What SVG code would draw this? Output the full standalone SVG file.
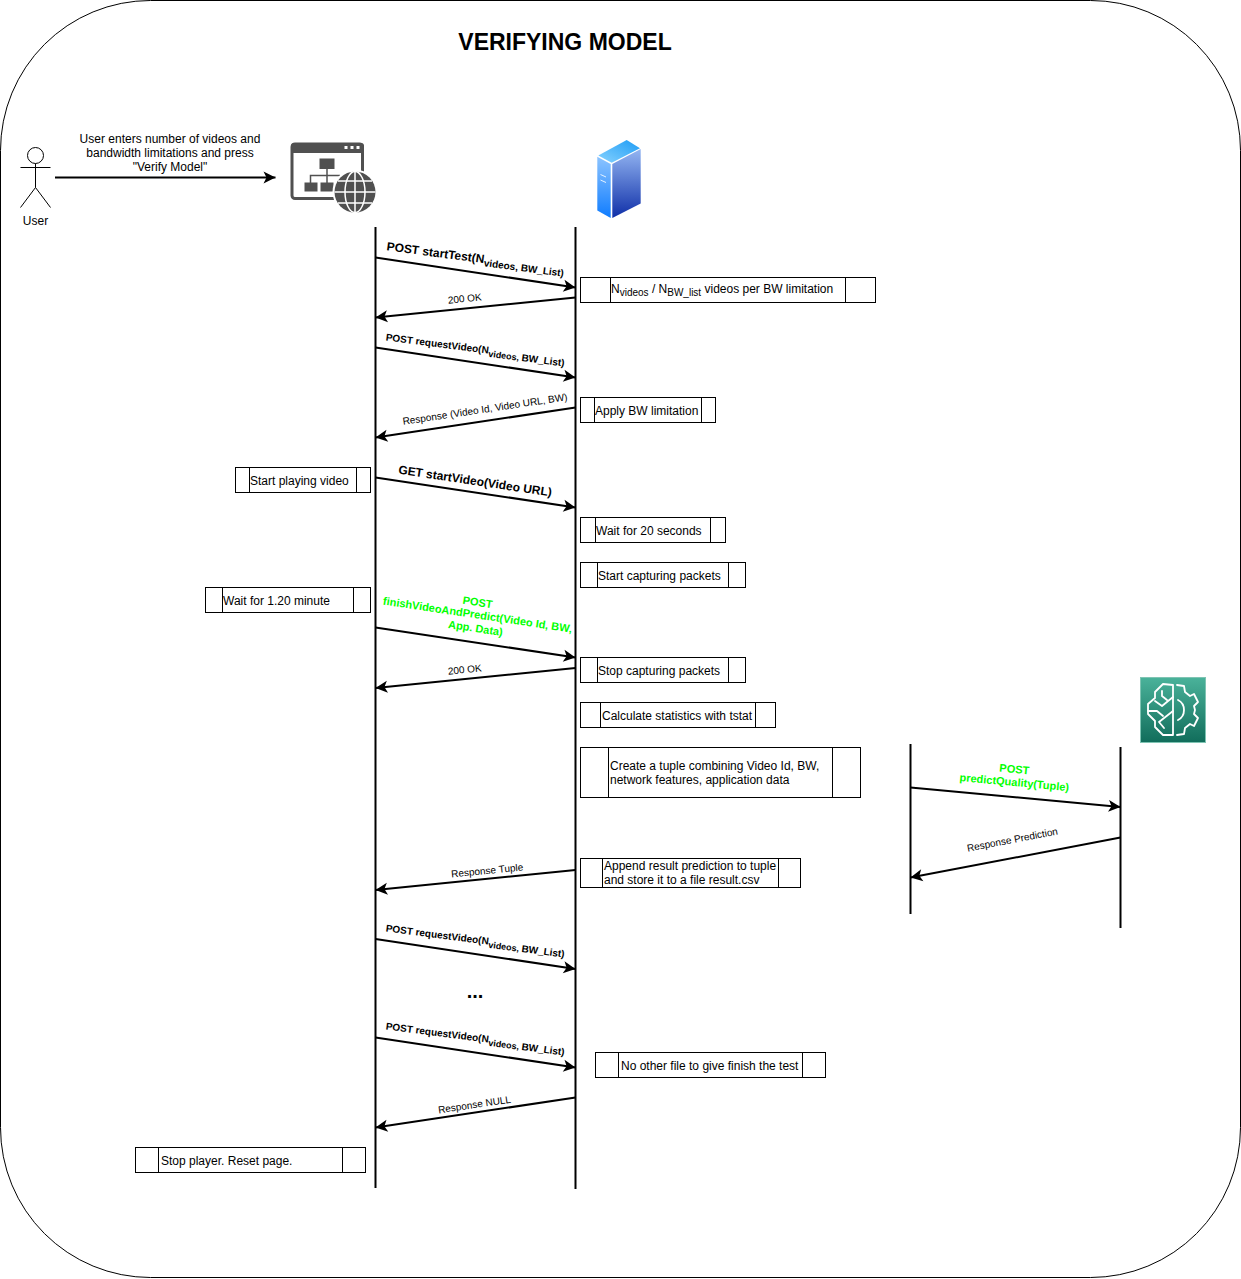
<svg xmlns="http://www.w3.org/2000/svg" width="1241" height="1279" viewBox="0 0 1241 1279">
<style>
text{font-family:"Liberation Sans",Arial,sans-serif;font-size:12px;fill:#000}
.life{stroke:#000;stroke-width:2;fill:none}
.msg{stroke:#000;stroke-width:2;fill:none;marker-end:url(#arr)}
.box{fill:#fff;stroke:#000;stroke-width:1}
.m{text-anchor:middle;font-size:10px}
.b{font-weight:bold}
.r{font-size:10px;text-anchor:middle;font-weight:bold}
.s{font-size:9px}
.g{fill:#00ff00;font-weight:bold;font-size:11px;text-anchor:middle}
.ico{fill:#505050}
.wl{fill:none;stroke:#fff;stroke-width:1.8;stroke-linejoin:round;stroke-linecap:round}
</style>
<defs>
<marker id="arr" viewBox="0 0 13 13" refX="12.500" refY="6.500" markerWidth="13" markerHeight="13" markerUnits="userSpaceOnUse" orient="auto">
<path d="M0.500 0.500 L12.500 6.500 L0.500 12.500 L3.500 6.500Z" fill="#000"/>
</marker>
<linearGradient id="front" x1="0" y1="0" x2="0" y2="1"><stop offset="0" stop-color="#94b6f2"/><stop offset="1" stop-color="#0f2fa8"/></linearGradient>
<linearGradient id="side" x1="0" y1="0" x2="0" y2="1"><stop offset="0" stop-color="#8cc4ff"/><stop offset="1" stop-color="#0f7cff"/></linearGradient>
<linearGradient id="top" x1="0" y1="1" x2="1" y2="0"><stop offset="0" stop-color="#86d2ff"/><stop offset="1" stop-color="#1e9cf5"/></linearGradient>
<linearGradient id="ml" x1="0" y1="0" x2="0" y2="1"><stop offset="0" stop-color="#4ab29a"/><stop offset="1" stop-color="#116d5b"/></linearGradient>
</defs>
<rect x="0.500" y="0.500" width="1240" height="1277" rx="150" ry="150" fill="#fff" stroke="#000"/>
<text x="565" y="50" text-anchor="middle" style="font-size:23px;font-weight:bold">VERIFYING MODEL</text>

<g id="user" fill="none" stroke="#000">
<circle cx="35.500" cy="155.500" r="8"/>
<path d="M35.500 163.500V187.500M20.500 167.500H50.500M35.500 187.500L20.500 207.500M35.500 187.500L50.500 207.500"/>
<text x="35.500" y="225" text-anchor="middle" stroke="none">User</text>
</g>
<g id="user-note">
<text x="170" y="143" text-anchor="middle">User enters number of videos and</text>
<text x="170" y="157" text-anchor="middle">bandwidth limitations and press</text>
<text x="170" y="171" text-anchor="middle">"Verify Model"</text>
</g>
<g id="browser">
<rect x="292" y="144" width="70.500" height="54.500" rx="3" fill="#fff" stroke="#505050" stroke-width="3"/>
<path class="ico" d="M291 146a3 3 0 0 1 3-3h67a3 3 0 0 1 3 3v7h-73z"/>
<rect x="344.500" y="146" width="3" height="3" fill="#fff"/><rect x="350.500" y="146" width="3" height="3" fill="#fff"/><rect x="356.500" y="146" width="3" height="3" fill="#fff"/>
<rect class="ico" x="319.500" y="158.500" width="15" height="10.500"/>
<rect class="ico" x="304.500" y="182.500" width="13" height="9"/>
<rect class="ico" x="320.500" y="182.500" width="13" height="9"/>
<path d="M327 168V183M310.500 183V175.500H340" fill="none" stroke="#505050" stroke-width="1.500"/>
<circle cx="355" cy="192" r="22.500" fill="#fff"/>
<circle cx="355" cy="192" r="20.500" class="ico"/>
<g fill="none" stroke="#fff" stroke-width="1.500"><ellipse cx="355" cy="192" rx="10" ry="20.500"/><path d="M355 171.500V212.500M334.500 192H375.500M338 181H372M338 203H372"/></g>
</g>
<g id="server">
<path d="M597.300 156.700L610.700 164V218L597.300 210.500Z" fill="url(#side)"/>
<path d="M612.300 164L640.700 149V203.500L612.300 218Z" fill="url(#front)"/>
<path d="M598.300 155.500L626.700 140L640 148.300L611.700 162.700Z" fill="url(#top)"/>
<path d="M600.500 174.500L606 177M600.500 180L606 182.500" stroke="#e4f2ff" stroke-width="1"/>
</g>
<g id="ml-service">
<rect x="1140.500" y="677.500" width="65" height="65" fill="url(#ml)" stroke="#7fc4b3" stroke-width="1"/>
<g class="wl">
<path d="M1173 685V735H1163L1155 727V721L1148 714V704L1155 698V692L1163 684Z"/>
<path d="M1162 691V696L1167 700M1173 697L1162 706L1155 701M1148 711H1157L1163 716M1173 711L1159 722L1164 728"/>
<path d="M1177 685L1184 686L1185 692L1190 696L1194 694L1198 702L1194 706L1195 710L1194 714L1198 718L1194 726L1190 724L1185 728L1184 734L1177 735"/>
<path d="M1178 700C1186 704 1186 716 1178 720"/>
</g>
</g>

<g id="lifelines">
<path class="life" d="M375.500 227V1188"/>
<path class="life" d="M575.500 227V1189"/>
<path class="life" d="M910.500 744V914"/>
<path class="life" d="M1120.500 747V928"/>
</g>

<g id="connectors">
<path class="msg" d="M55 177.500H275.500"/>
<path class="msg" d="M375.500 257.500L575.500 287.500"/>
<path class="msg" d="M575.500 297.500L375.500 317.500"/>
<path class="msg" d="M375.500 347.500L575.500 377.500"/>
<path class="msg" d="M575.500 407.500L375.500 437.500"/>
<path class="msg" d="M375.500 477.500L575.500 507.500"/>
<path class="msg" d="M375.500 627.500L575.500 657.500"/>
<path class="msg" d="M575.500 668L375.500 688"/>
<path class="msg" d="M910.500 787.500L1120.500 807"/>
<path class="msg" d="M1120.500 837.500L910.500 877.500"/>
<path class="msg" d="M575.500 870L375.500 890"/>
<path class="msg" d="M375.500 939L575.500 969"/>
<path class="msg" d="M375.500 1037.500L575.500 1067.500"/>
<path class="msg" d="M575.500 1097.500L375.500 1127.500"/>
</g>

<g id="labels">
<text class="b" text-anchor="middle" transform="translate(475 262) rotate(7.500)">POST startTest(N<tspan dy="3" style="font-size:10px">videos, </tspan><tspan dy="-3"> </tspan><tspan style="font-size:10px">BW_List)</tspan></text>
<text class="m" transform="translate(465 302) rotate(-5.700)">200 OK</text>
<text class="r" transform="translate(475 352) rotate(7.300)">POST requestVideo(N<tspan class="s" dy="3">videos, </tspan><tspan dy="-3"> </tspan>BW_List)</text>
<text class="m" transform="translate(485.500 412.500) rotate(-8.500)">Response (Video Id, Video URL, BW)</text>
<text class="b" text-anchor="middle" transform="translate(474.500 485) rotate(8.500)">GET startVideo(Video URL)</text>
<g>
<text class="g" transform="translate(477 606) rotate(8.500)">POST</text>
<text class="g" transform="translate(477 618.500) rotate(8.500)">finishVideoAndPredict(Video Id, BW,</text>
<text class="g" transform="translate(475 632) rotate(8.500)">App. Data)</text>
</g>
<text class="m" transform="translate(465 673) rotate(-5.700)">200 OK</text>
<text class="g" transform="translate(1014 773) rotate(5.300)">POST</text>
<text class="g" transform="translate(1014 786) rotate(5.300)">predictQuality(Tuple)</text>
<text class="m" transform="translate(1013 843) rotate(-10.800)">Response Prediction</text>
<text class="m" transform="translate(487.500 874) rotate(-5.700)">Response Tuple</text>
<text class="r" transform="translate(475 943) rotate(7.300)">POST requestVideo(N<tspan class="s" dy="3">videos, </tspan><tspan dy="-3"> </tspan>BW_List)</text>
<text class="b" x="475" y="998" text-anchor="middle" style="font-size:20px">...</text>
<text class="r" transform="translate(475 1041) rotate(7.300)">POST requestVideo(N<tspan class="s" dy="3">videos, </tspan><tspan dy="-3"> </tspan>BW_List)</text>
<text class="m" transform="translate(475 1108) rotate(-8.500)">Response NULL</text>
</g>

<g id="p1"><rect class="box" x="580.500" y="277.500" width="295" height="25"/><path class="box" d="M610.500 277.500V302.500M845.500 277.500V302.500"/><text x="611" y="293">N<tspan dy="3" style="font-size:10px">videos</tspan><tspan dy="-3"> / N</tspan><tspan dy="3" style="font-size:10px">BW_list</tspan><tspan dy="-3"> videos per BW limitation</tspan></text></g>
<g id="p2"><rect class="box" x="580.500" y="397.500" width="135" height="25"/><path class="box" d="M594.500 397.500V422.500M701.500 397.500V422.500"/><text x="595" y="415">Apply BW limitation</text></g>
<g id="p3"><rect class="box" x="235.500" y="467.500" width="135" height="25"/><path class="box" d="M249.500 467.500V492.500M356.500 467.500V492.500"/><text x="250" y="485">Start playing video</text></g>
<g id="p4"><rect class="box" x="580.500" y="517.500" width="145" height="25"/><path class="box" d="M595.500 517.500V542.500M710.500 517.500V542.500"/><text x="596" y="535">Wait for 20 seconds</text></g>
<g id="p5"><rect class="box" x="580.500" y="562.500" width="165" height="25"/><path class="box" d="M597.500 562.500V587.500M728.500 562.500V587.500"/><text x="598" y="580">Start capturing packets</text></g>
<g id="p6"><rect class="box" x="205.500" y="587.500" width="165" height="25"/><path class="box" d="M222.500 587.500V612.500M353.500 587.500V612.500"/><text x="223" y="605">Wait for 1.20 minute</text></g>
<g id="p7"><rect class="box" x="580.500" y="657.500" width="165" height="25"/><path class="box" d="M597.500 657.500V682.500M728.500 657.500V682.500"/><text x="598" y="675">Stop capturing packets</text></g>
<g id="p8"><rect class="box" x="580.500" y="702.500" width="195" height="25"/><path class="box" d="M600.500 702.500V727.500M755.500 702.500V727.500"/><text x="602" y="720">Calculate statistics with tstat</text></g>
<g id="p9"><rect class="box" x="580.500" y="747.500" width="280" height="50"/><path class="box" d="M608.500 747.500V797.500M832.500 747.500V797.500"/><text x="610" y="770">Create a tuple combining Video Id, BW,</text><text x="610" y="784">network features, application data</text></g>
<g id="p10"><rect class="box" x="580.500" y="858.500" width="220" height="29"/><path class="box" d="M602.500 858.500V887.500M778.500 858.500V887.500"/><text x="604" y="870">Append result prediction to tuple</text><text x="604" y="884">and store it to a file result.csv</text></g>
<g id="p11"><rect class="box" x="595.500" y="1052.500" width="230" height="25"/><path class="box" d="M618.500 1052.500V1077.500M802.500 1052.500V1077.500"/><text x="621" y="1070">No other file to give finish the test</text></g>
<g id="p12"><rect class="box" x="135.500" y="1147.500" width="230" height="25"/><path class="box" d="M158.500 1147.500V1172.500M342.500 1147.500V1172.500"/><text x="161" y="1165">Stop player. Reset page.</text></g>
</svg>
